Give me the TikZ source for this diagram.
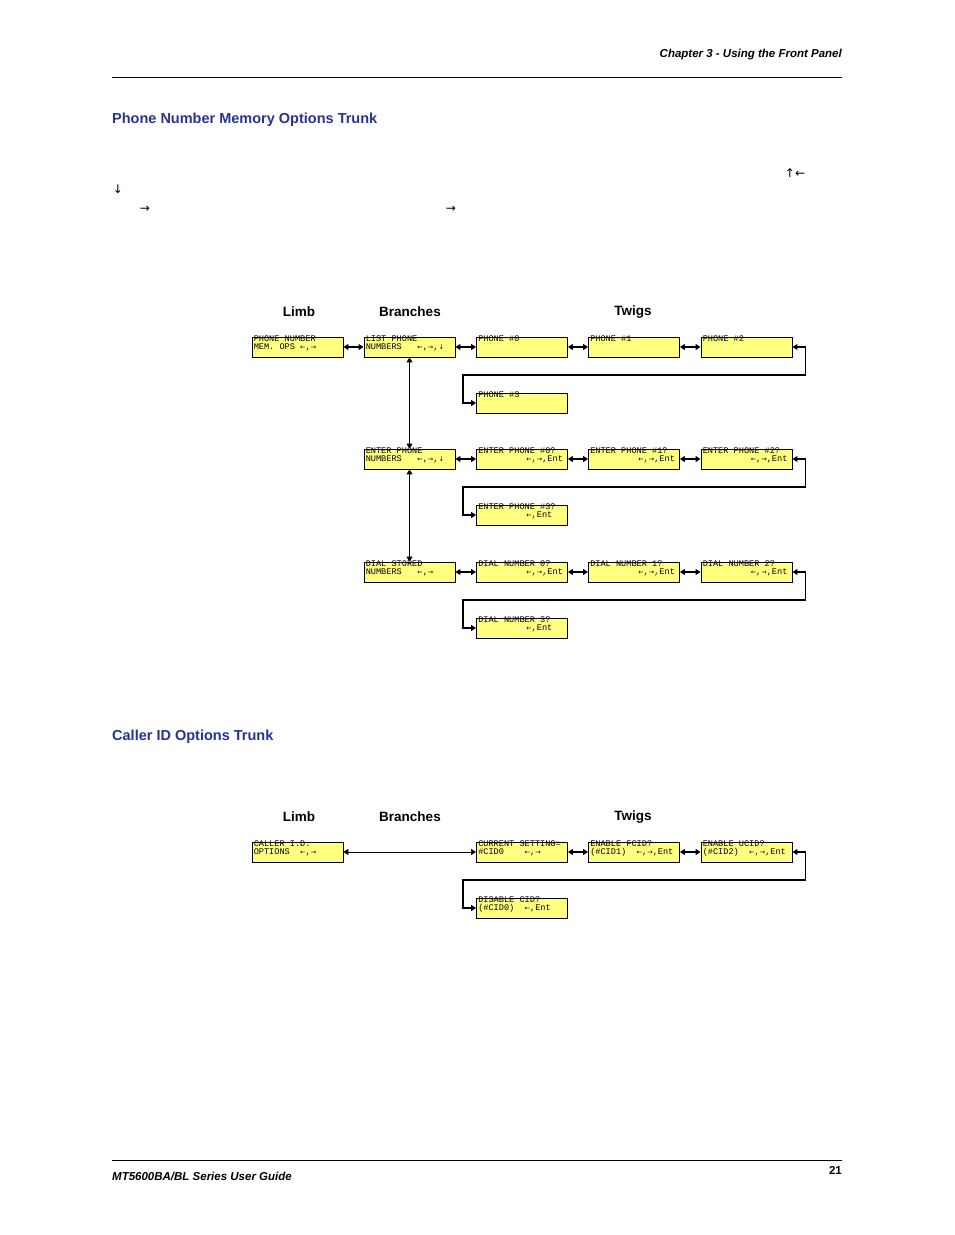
\documentclass[tikz,border=0pt]{standalone}
\usepackage{fontspec}
\setmainfont{Liberation Sans}
\newfontfamily\mono{Liberation Mono}
\newfontfamily\dv{DejaVu Sans}
\usetikzlibrary{arrows.meta}
\definecolor{hblue}{RGB}{40,50,150}
\definecolor{lcd}{RGB}{255,255,128}
\begin{document}
\begin{tikzpicture}[x=1pt,y=-1pt,
 lcd/.style={draw=black,fill=lcd,line width=0.9pt,minimum width=91pt,minimum height=20pt,inner sep=0pt},
 ltxt/.style={font=\mono\fontsize{8.6}{8.4}\selectfont,align=left,anchor=north west,inner sep=0pt},
 conn/.style={line width=1.8pt,{Triangle[length=5pt,width=6pt]}-{Triangle[length=5pt,width=6pt]}},
 thin/.style={line width=0.8pt,{Triangle[length=5pt,width=6pt]}-{Triangle[length=5pt,width=6pt]}},
 hd/.style={font=\bfseries\fontsize{13.5}{15}\selectfont},
 ttl/.style={font=\bfseries\fontsize{14.5}{16}\selectfont,text=hblue,anchor=west,inner sep=0pt}]
\useasboundingbox (0,0) rectangle (954,1235);
\node[anchor=east,font=\bfseries\itshape\fontsize{11.5}{13}\selectfont,inner sep=0pt] (ch) at (842,55) {Chapter 3 - Using the Front Panel};
\draw[line width=0.6pt] (112,77) -- (842,77);
\node[ttl] (t1) at (112,120) {Phone Number Memory Options Trunk};
\node[ttl] (t2) at (112,737) {Caller ID Options Trunk};
\draw[line width=0.6pt] (112,1160) -- (842,1160);
\node[anchor=west,font=\bfseries\itshape\fontsize{11.5}{13}\selectfont,inner sep=0pt] (ft) at (112,1176) {MT5600BA/BL Series User Guide};
\node[anchor=east,font=\bfseries\fontsize{11.5}{13}\selectfont,inner sep=0pt] (pg) at (842,1170) {21};
\node[font=\dv\fontsize{12}{12}\selectfont] (a1) at (118,189) {↓};
\node[font=\dv\fontsize{12}{12}\selectfont] (a2) at (145,209) {→};
\node[font=\dv\fontsize{12}{12}\selectfont] (a3) at (451,209) {→};
\node[font=\dv\fontsize{12}{12}\selectfont] (a4) at (795,173) {↑←};
% headings
\foreach \y/\s in {312/a,817/b}{
 \node[hd] (limb\s) at (299,\y) {Limb};
 \node[hd] (br\s) at (410,\y) {Branches};
 \node[hd] (tw\s) at (633,\y) {Twigs};}
\newcommand{\lb}[4]{\node[lcd] (#1) at (#2,#3) {};
 \node[ltxt] at ([xshift=2pt,yshift=1.5pt]#1.north west) {#4};}
\newcommand{\ar}{{\dv\fontsize{6.5}{6}\selectfont←}}
\newcommand{\ra}{{\dv\fontsize{6.5}{6}\selectfont→}}
\newcommand{\da}{{\dv\fontsize{6.5}{6}\selectfont↓}}
\lb{pn}{297.5}{347}{PHONE NUMBER\\MEM. OPS \ar,\ra}
\lb{lp}{409.5}{347}{LIST PHONE\\NUMBERS \ \ \ar,\ra,\da}
\lb{p0}{522}{347}{PHONE \#0}
\lb{p1}{634}{347}{PHONE \#1}
\lb{p2}{746.5}{347}{PHONE \#2}
\lb{p3}{522}{403}{PHONE \#3}
\lb{ep}{409.5}{459}{ENTER PHONE\\NUMBERS \ \ \ar,\ra,\da}
\lb{e0}{522}{459}{ENTER PHONE \#0?\\\hspace*{48pt}\ar,\ra,Ent}
\lb{e1}{634}{459}{ENTER PHONE \#1?\\\hspace*{48pt}\ar,\ra,Ent}
\lb{e2}{746.5}{459}{ENTER PHONE \#2?\\\hspace*{48pt}\ar,\ra,Ent}
\lb{e3}{522}{515}{ENTER PHONE \#3?\\\hspace*{48pt}\ar,Ent}
\lb{ds}{409.5}{572}{DIAL STORED\\NUMBERS \ \ \ar,\ra}
\lb{d0}{522}{572}{DIAL NUMBER 0?\\\hspace*{48pt}\ar,\ra,Ent}
\lb{d1}{634}{572}{DIAL NUMBER 1?\\\hspace*{48pt}\ar,\ra,Ent}
\lb{d2}{746.5}{572}{DIAL NUMBER 2?\\\hspace*{48pt}\ar,\ra,Ent}
\lb{d3}{522}{628}{DIAL NUMBER 3?\\\hspace*{48pt}\ar,Ent}
\lb{ci}{297.5}{852}{CALLER I.D.\\OPTIONS \ \ar,\ra}
\lb{cs}{522}{852}{CURRENT SETTING=\\\#CID0 \ \ \ \ar,\ra}
\lb{ef}{634}{852}{ENABLE FCID?\\(\#CID1) \ \ar,\ra,Ent}
\lb{eu}{746.5}{852}{ENABLE UCID?\\(\#CID2) \ \ar,\ra,Ent}
\lb{dc}{522}{908}{DISABLE CID?\\(\#CID0) \ \ar,Ent}
\draw[conn] (pn) -- (lp); \draw[conn] (lp) -- (p0); \draw[conn] (p0) -- (p1); \draw[conn] (p1) -- (p2);
\draw[conn] (p2.east) -- ++(13,0) |- (634,375) -| (463,403) -- (p3.west);
\draw[conn] (lp.south) -- (ep.north);
\draw[conn] (ep.south) -- (ds.north);
\draw[conn] (ep) -- (e0); \draw[conn] (e0) -- (e1); \draw[conn] (e1) -- (e2);
\draw[conn] (e2.east) -- ++(13,0) |- (634,487) -| (463,515) -- (e3.west);
\draw[conn] (ds) -- (d0); \draw[conn] (d0) -- (d1); \draw[conn] (d1) -- (d2);
\draw[conn] (d2.east) -- ++(13,0) |- (634,600) -| (463,628) -- (d3.west);
\draw[thin] (ci) -- (cs); \draw[conn] (cs) -- (ef); \draw[conn] (ef) -- (eu);
\draw[conn] (eu.east) -- ++(13,0) |- (634,880) -| (463,908) -- (dc.west);
\end{tikzpicture}
\end{document}
